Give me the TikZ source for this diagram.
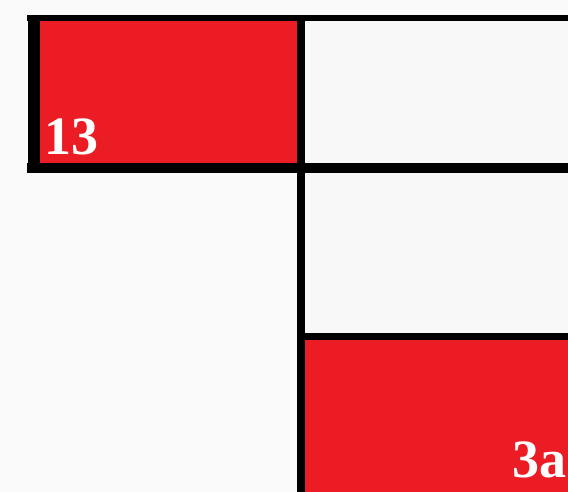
\documentclass[tikz,border=0pt]{standalone}
\usepackage{fontspec}
\setmainfont{Liberation Serif}
\definecolor{panelred}{RGB}{236,28,36}
\definecolor{panelwhite}{RGB}{248,248,248}
\definecolor{paper}{RGB}{250,250,250}

\begin{document}
\begin{tikzpicture}[
    x=1pt, y=-1pt,
    bar/.style={draw=black, line width=8pt, line cap=butt},
    panel label/.style={text=white, inner sep=0pt, font=\fontsize{54}{60}\selectfont\bfseries}
]

% ------------------------------------------------------------
% Paper and panels
% ------------------------------------------------------------

\useasboundingbox[fill=paper] (0,0) rectangle (568,492);

\fill[panelwhite] (301,18) rectangle (568,336);
\fill[panelred] (33,18) rectangle (301,168);
\fill[panelred] (301,336) rectangle (568,492);

% ------------------------------------------------------------
% Black bars
% ------------------------------------------------------------

\draw[bar, line width=6pt] (27,18) -- (568,18);
\draw[bar, line width=10pt] (27,168) -- (568,168);
\draw[bar, line width=12pt] (33.5,15) -- (33.5,173);
\draw[bar] (301,15) -- (301,492);
\draw[bar, line width=7pt] (301,336.5) -- (568,336.5);

% Labels
\node[panel label, anchor=base west] (l13) at (44,155) {13};
\node[panel label, anchor=base east] (l3a) at (567,477) {3a};

\end{tikzpicture}
\end{document}
